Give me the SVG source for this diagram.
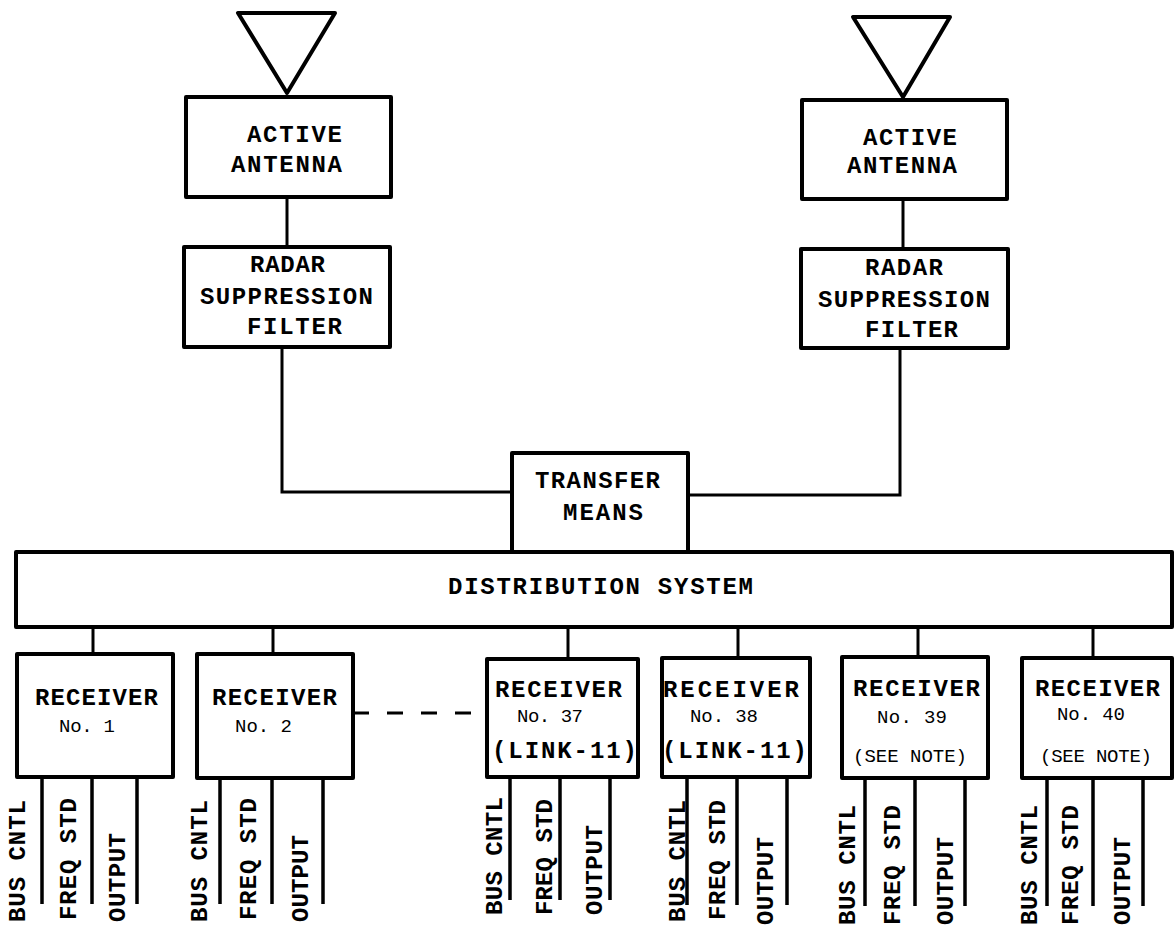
<svg xmlns="http://www.w3.org/2000/svg" width="1174" height="932" viewBox="0 0 1174 932">
  <style>
    .box { fill: #fff; stroke: #000; stroke-width: 4; stroke-linejoin: round; }
    .ant { fill: #fff; stroke: #000; stroke-width: 4; stroke-linejoin: round; }
    .wire { fill: none; stroke: #000; stroke-width: 3; }
    .lead { fill: none; stroke: #000; stroke-width: 3.5; }
    .dash { fill: none; stroke: #000; stroke-width: 3; stroke-dasharray: 16 18; }
    .t { font-family: "Liberation Mono", "DejaVu Sans Mono", monospace; font-weight: bold; font-size: 24px; fill: #000; text-anchor: middle; }
    .v { font-family: "Liberation Mono", "DejaVu Sans Mono", monospace; font-weight: bold; font-size: 24px; fill: #000; }
    .n { font-family: "Liberation Mono", "DejaVu Sans Mono", monospace; font-size: 19px; fill: #000; text-anchor: middle; }
    .s { font-family: "Liberation Mono", "DejaVu Sans Mono", monospace; font-size: 19px; fill: #000; text-anchor: middle; }
  </style>

  <!-- connectors -->
  <g id="connectors">
    <line class="wire" x1="287" y1="197" x2="287" y2="247"/>
    <line class="wire" x1="903" y1="199" x2="903" y2="249"/>
    <path class="wire" d="M282 347 V492 H512"/>
    <path class="wire" d="M900 348 V495 H688"/>
    <line class="wire" x1="93" y1="627" x2="93" y2="654"/>
    <line class="wire" x1="273" y1="627" x2="273" y2="654"/>
    <line class="wire" x1="568" y1="627" x2="568" y2="659"/>
    <line class="wire" x1="738" y1="627" x2="738" y2="658"/>
    <line class="wire" x1="918" y1="627" x2="918" y2="657"/>
    <line class="wire" x1="1093" y1="627" x2="1093" y2="658"/>
    <path class="dash" d="M353 713 H478"/>
  </g>

  <!-- left antenna chain -->
  <g id="antenna-left">
    <polygon class="ant" points="238,13 335,13 287,93"/>
  </g>
  <g id="active-antenna-left">
    <rect class="box" x="186" y="97" width="205" height="100"/>
    <text class="t" x="294.5" y="142" textLength="95">ACTIVE</text>
    <text class="t" x="286.5" y="172" textLength="111">ANTENNA</text>
  </g>
  <g id="filter-left">
    <rect class="box" x="184" y="247" width="206" height="100"/>
    <text class="t" x="287.5" y="272" textLength="75">RADAR</text>
    <text class="t" x="286.5" y="304" textLength="173">SUPPRESSION</text>
    <text class="t" x="294.5" y="334" textLength="95">FILTER</text>
  </g>

  <!-- right antenna chain -->
  <g id="antenna-right">
    <polygon class="ant" points="853,17 950,17 903,97"/>
  </g>
  <g id="active-antenna-right">
    <rect class="box" x="802" y="100" width="205" height="99"/>
    <text class="t" x="910" y="145" textLength="94">ACTIVE</text>
    <text class="t" x="902" y="173" textLength="110">ANTENNA</text>
  </g>
  <g id="filter-right">
    <rect class="box" x="801" y="249" width="207" height="99"/>
    <text class="t" x="904" y="275" textLength="78">RADAR</text>
    <text class="t" x="904" y="307" textLength="172">SUPPRESSION</text>
    <text class="t" x="911.5" y="337" textLength="93">FILTER</text>
  </g>

  <!-- transfer and distribution -->
  <g id="transfer-means">
    <rect class="box" x="512" y="453" width="176" height="99"/>
    <text class="t" x="597.5" y="488" textLength="125">TRANSFER</text>
    <text class="t" x="603" y="520" textLength="80">MEANS</text>
  </g>
  <g id="distribution-system">
    <rect class="box" x="16" y="552" width="1156" height="75"/>
    <text class="t" x="600.5" y="594" textLength="305">DISTRIBUTION SYSTEM</text>
  </g>

  <!-- receivers -->
  <g id="receiver-1">
    <rect class="box" x="17" y="654" width="156" height="123"/>
    <text class="t" x="96.5" y="705" textLength="123">RECEIVER</text>
    <text class="n" x="87" y="732" textLength="56">No. 1</text>
    <path class="lead" d="M42 777 V904 M92 777 V904 M137 777 V904"/>
    <text class="v" transform="translate(25 922) rotate(-90)" textLength="122">BUS CNTL</text>
    <text class="v" transform="translate(76 920) rotate(-90)" textLength="122">FREQ STD</text>
    <text class="v" transform="translate(125 922) rotate(-90)" textLength="89">OUTPUT</text>
  </g>
  <g id="receiver-2">
    <rect class="box" x="197" y="654" width="156" height="124"/>
    <text class="t" x="274.5" y="705" textLength="125">RECEIVER</text>
    <text class="n" x="263.5" y="732" textLength="57">No. 2</text>
    <path class="lead" d="M220 778 V904 M272 778 V904 M323 778 V904"/>
    <text class="v" transform="translate(207 922) rotate(-90)" textLength="122">BUS CNTL</text>
    <text class="v" transform="translate(256 920) rotate(-90)" textLength="122">FREQ STD</text>
    <text class="v" transform="translate(308 922) rotate(-90)" textLength="87">OUTPUT</text>
  </g>
  <g id="receiver-37">
    <rect class="box" x="487" y="659" width="151" height="118"/>
    <text class="t" x="558.5" y="697" textLength="127">RECEIVER</text>
    <text class="n" x="550" y="722" textLength="66">No. 37</text>
    <text class="t" x="564.5" y="758" textLength="145">(LINK-11)</text>
    <path class="lead" d="M510 777 V900 M560 777 V900 M610 777 V900"/>
    <text class="v" transform="translate(502 915) rotate(-90)" textLength="118">BUS CNTL</text>
    <text class="v" transform="translate(552 915) rotate(-90)" textLength="116">FREQ STD</text>
    <text class="v" transform="translate(602 915) rotate(-90)" textLength="90">OUTPUT</text>
  </g>
  <g id="receiver-38">
    <rect class="box" x="662" y="658" width="148" height="119"/>
    <text class="t" x="731" y="697" textLength="136">RECEIVER</text>
    <text class="n" x="724" y="722" textLength="68">No. 38</text>
    <text class="t" x="734.5" y="758" textLength="145">(LINK-11)</text>
    <path class="lead" d="M687 777 V905 M737 777 V905 M787 777 V905"/>
    <text class="v" transform="translate(685 922) rotate(-90)" textLength="122">BUS CNTL</text>
    <text class="v" transform="translate(725 920) rotate(-90)" textLength="120">FREQ STD</text>
    <text class="v" transform="translate(773 925) rotate(-90)" textLength="88">OUTPUT</text>
  </g>
  <g id="receiver-39">
    <rect class="box" x="842" y="657" width="146" height="121"/>
    <text class="t" x="916.5" y="696" textLength="127">RECEIVER</text>
    <text class="n" x="912" y="723" textLength="70">No. 39</text>
    <text class="s" x="910" y="762" textLength="114">(SEE NOTE)</text>
    <path class="lead" d="M865 778 V906 M915 778 V906 M965 778 V906"/>
    <text class="v" transform="translate(855 925) rotate(-90)" textLength="120">BUS CNTL</text>
    <text class="v" transform="translate(900 925) rotate(-90)" textLength="120">FREQ STD</text>
    <text class="v" transform="translate(953 925) rotate(-90)" textLength="88">OUTPUT</text>
  </g>
  <g id="receiver-40">
    <rect class="box" x="1022" y="658" width="150" height="120"/>
    <text class="t" x="1097.5" y="696" textLength="125">RECEIVER</text>
    <text class="n" x="1091" y="720" textLength="68">No. 40</text>
    <text class="s" x="1096" y="762" textLength="112">(SEE NOTE)</text>
    <path class="lead" d="M1047 778 V906 M1093 778 V906 M1143 778 V906"/>
    <text class="v" transform="translate(1037 925) rotate(-90)" textLength="120">BUS CNTL</text>
    <text class="v" transform="translate(1078 925) rotate(-90)" textLength="120">FREQ STD</text>
    <text class="v" transform="translate(1130 925) rotate(-90)" textLength="88">OUTPUT</text>
  </g>
</svg>
